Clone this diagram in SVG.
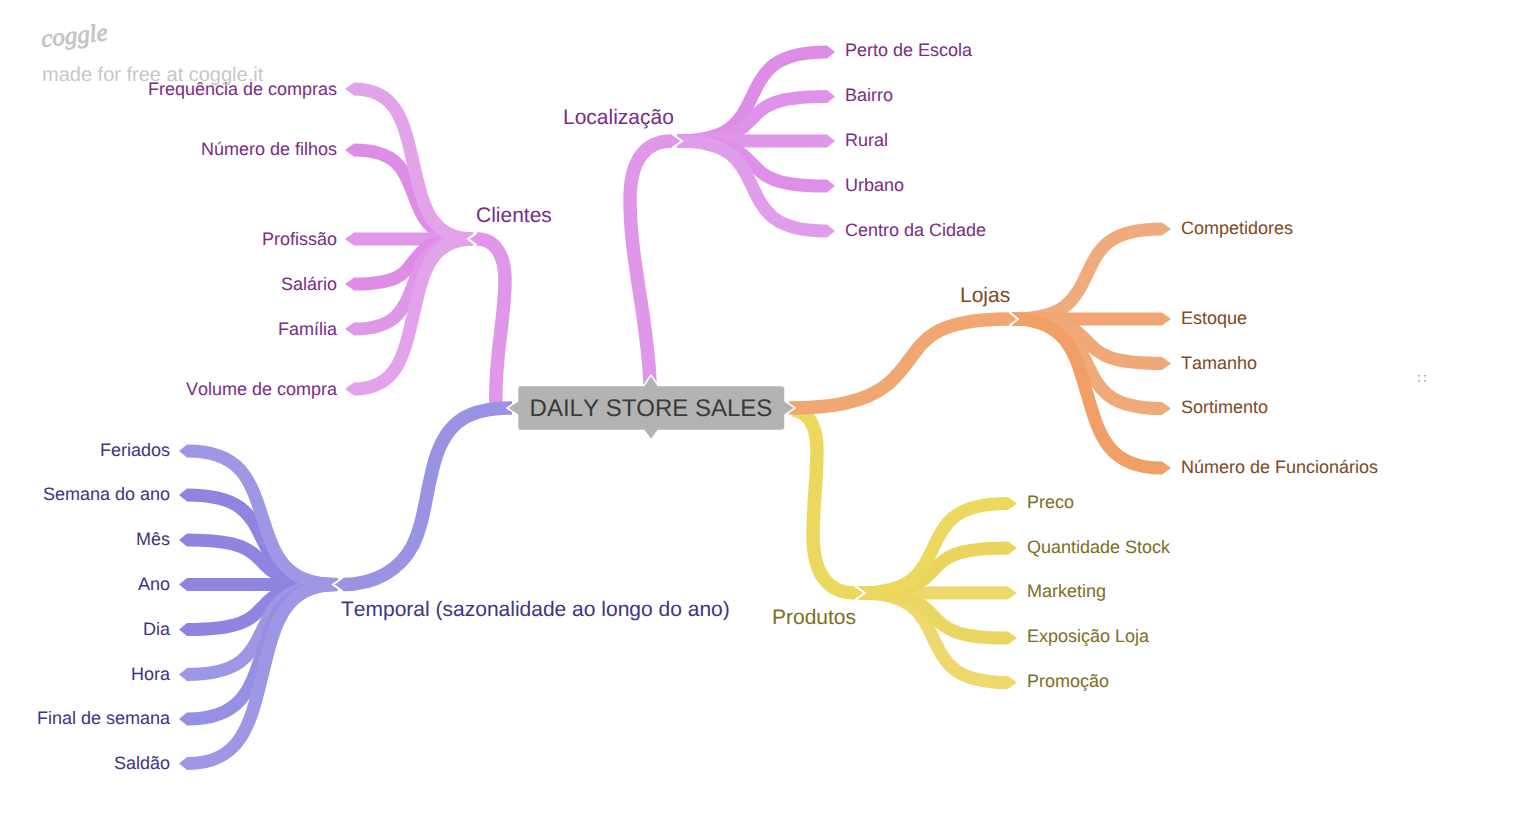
<svg xmlns="http://www.w3.org/2000/svg" width="1520" height="822" viewBox="0 0 1520 822">
<style>
text{font-family:"Liberation Sans",Arial,sans-serif;text-rendering:geometricPrecision;font-kerning:none}
.l{fill:none;stroke-width:13}
.p{fill:none;stroke-width:13.5}
.leaf{font-size:18px}
.branch{font-size:21px}
.end{text-anchor:end}
.loc{fill:#7b2d85}.tem{fill:#3f3585}.loj{fill:#804a22}.pro{fill:#7d6e22}
</style>
<rect width="1520" height="822" fill="#fff"/>
<g id="watermark">
<text x="42" y="47" font-size="25" font-style="italic" fill="#c4c4c4" stroke="#c4c4c4" stroke-width="0.8" style="font-family:'Liberation Serif',serif" transform="rotate(-6 42 47)">coggle</text>
<text x="42" y="81" font-size="20" fill="#c8c8c8">made for free at coggle.it</text>
</g>
<g id="connectors">
<!-- Localização -->
<g>
<path class="l" stroke="#dd8de8" d="M677 141C731 141 740 121.4 752 96.5S773 52 827 52"/><polygon fill="#dd8de8" points="827,45.5 835,52 827,58.5"/>
<path class="l" stroke="#df92e9" d="M677 141C731 141 740 131.2 752 118.75S773 96.5 827 96.5"/><polygon fill="#df92e9" points="827,90 835,96.5 827,103"/>
<path class="l" stroke="#e097ea" d="M677 141H827"/><polygon fill="#e097ea" points="827,134.5 835,141 827,147.5"/>
<path class="l" stroke="#de90e8" d="M677 141C731 141 740 150.9 752 163.5S773 186 827 186"/><polygon fill="#de90e8" points="827,179.5 835,186 827,192.5"/>
<path class="l" stroke="#e09deb" d="M677 141C731 141 740 160.8 752 186S773 231 827 231"/><polygon fill="#e09deb" points="827,224.5 835,231 827,237.5"/>
<polyline fill="#e097ea" stroke="#fff" stroke-width="2" points="672,134 682,141 672,148"/>
<path class="p" stroke="#e097ea" d="M650 384C648 320 630 260 630 200C630 160 645 141 672 141"/>
</g>
<!-- Clientes -->
<g>
<path class="l" stroke="#de8ce6" d="M473 239C430.2 239 423 219.4 413.5 194.5S396.8 150 354 150"/><polygon fill="#de8ce6" points="354,143.5 345,150 354,156.5"/>
<path class="l" stroke="#e097ea" d="M473 239H354"/><polygon fill="#e097ea" points="354,232.5 345,239 354,245.5"/>
<path class="l" stroke="#de8ce6" d="M473 239C430.2 239 423 248.9 413.5 261.5S396.8 284 354 284"/><polygon fill="#de8ce6" points="354,277.5 345,284 354,290.5"/>
<path class="l" stroke="#df98e8" d="M473 239C430.2 239 423 258.8 413.5 284S396.8 329 354 329"/><polygon fill="#df98e8" points="354,322.5 345,329 354,335.5"/>
<path class="l" stroke="#e2a3ea" d="M473 239C430.2 239 423 206 413.5 164S396.8 89 354 89"/><polygon fill="#e2a3ea" points="354,82.5 345,89 354,95.5"/>
<path class="l" stroke="#e2a3ea" d="M473 239C430.2 239 423 272 413.5 314S396.8 389 354 389"/><polygon fill="#e2a3ea" points="354,382.5 345,389 354,395.5"/>
<polyline fill="#e097ea" stroke="#fff" stroke-width="2" points="478,232 468,239 478,246"/>
<path class="p" stroke="#e097ea" d="M496 404C494 360 505 320 505 280C505 255 495 239 477 239"/>
</g>
<!-- Produtos -->
<g>
<path class="l" stroke="#ecd96a" d="M858 593H1008"/><polygon fill="#ecd96a" points="1008,586.5 1017,593 1008,599.5"/>
<path class="l" stroke="#edd96d" d="M858 593C912 593 921 612.7 933 637.75S954 682.5 1008 682.5"/><polygon fill="#edd96d" points="1008,676 1017,682.5 1008,689"/>
<path class="l" stroke="#ecd663" d="M858 593C912 593 921 602.9 933 615.5S954 638 1008 638"/><polygon fill="#ecd663" points="1008,631.5 1017,638 1008,644.5"/>
<path class="l" stroke="#ebd45c" d="M858 593C912 593 921 583.1 933 570.5S954 548 1008 548"/><polygon fill="#ebd45c" points="1008,541.5 1017,548 1008,554.5"/>
<path class="l" stroke="#ecd75f" d="M858 593C912 593 921 573.3 933 548.25S954 503.5 1008 503.5"/><polygon fill="#ecd75f" points="1008,497 1017,503.5 1008,510"/>
<polyline fill="#ecd85f" stroke="#fff" stroke-width="2" points="855,586 865,593 855,600"/>
<path class="p" stroke="#ecd85f" d="M793 410C808 412 817 425 817 450C817 480 813 505 813 535C813 570 825 593 855 593"/>
</g>
<!-- Lojas -->
<g>
<path class="l" stroke="#f0ab7d" d="M1012 319C1066 319 1075 299.2 1087 274S1108 229 1162 229"/><polygon fill="#f0ab7d" points="1162,222.5 1171,229 1162,235.5"/>
<path class="l" stroke="#f1a570" d="M1012 319H1162"/><polygon fill="#f1a570" points="1162,312.5 1171,319 1162,325.5"/>
<path class="l" stroke="#f1a878" d="M1012 319C1066 319 1075 328.8 1087 341.25S1108 363.5 1162 363.5"/><polygon fill="#f1a878" points="1162,357 1171,363.5 1162,370"/>
<path class="l" stroke="#f0aa7a" d="M1012 319C1066 319 1075 338.7 1087 363.75S1108 408.5 1162 408.5"/><polygon fill="#f0aa7a" points="1162,402 1171,408.5 1162,415"/>
<path class="l" stroke="#f19f66" d="M1012 319C1066 319 1075 351.8 1087 393.5S1108 468 1162 468"/><polygon fill="#f19f66" points="1162,461.5 1171,468 1162,474.5"/>
<polyline fill="#f0a771" stroke="#fff" stroke-width="2" points="1009,312 1018,319 1009,326"/>
<path class="p" stroke="#f0a771" d="M789 408C830 408 865 403 888 384C910 365 915 345 935 333C955 321 985 319 1009 319"/>
</g>
<!-- Temporal -->
<g>
<path class="l" stroke="#8f85e0" d="M338 584.5C283.6 584.5 274.6 564.8 262.5 539.75S241.4 495 187 495"/><polygon fill="#8f85e0" points="187,488.5 179,495 187,501.5"/>
<path class="l" stroke="#8f85e0" d="M338 584.5C283.6 584.5 274.6 574.7 262.5 562.25S241.4 540 187 540"/><polygon fill="#8f85e0" points="187,533.5 179,540 187,546.5"/>
<path class="l" stroke="#8f85e0" d="M338 584.5H187"/><polygon fill="#8f85e0" points="187,578 179,584.5 187,591"/>
<path class="l" stroke="#8f85e0" d="M338 584.5C283.6 584.5 274.6 594.4 262.5 607S241.4 629.5 187 629.5"/><polygon fill="#8f85e0" points="187,623 179,629.5 187,636"/>
<path class="l" stroke="#9e97e6" d="M338 584.5C283.6 584.5 274.6 604.3 262.5 629.5S241.4 674.5 187 674.5"/><polygon fill="#9e97e6" points="187,668 179,674.5 187,681"/>
<path class="l" stroke="#9590e3" d="M338 584.5C283.6 584.5 274.6 614.1 262.5 651.75S241.4 719 187 719"/><polygon fill="#9590e3" points="187,712.5 179,719 187,725.5"/>
<path class="l" stroke="#9e97e6" d="M338 584.5C283.6 584.5 274.6 555.1 262.5 517.75S241.4 451 187 451"/><polygon fill="#9e97e6" points="187,444.5 179,451 187,457.5"/>
<path class="l" stroke="#9e97e6" d="M338 584.5C283.6 584.5 274.6 623.9 262.5 674S241.4 763.5 187 763.5"/><polygon fill="#9e97e6" points="187,757 179,763.5 187,770"/>
<polyline fill="#9a92e3" stroke="#fff" stroke-width="2" points="343,577.5 333,584.5 343,591.5"/>
<path class="p" stroke="#9a92e3" d="M512 408C470 408 447 420 435 460C425 495 425 520 413 545C400 570 375 584.5 343 584.5"/>
</g>
</g>
<g id="root">
<path fill="#b3b3b3" stroke="#fff" stroke-width="1.5" d="M520.5 385.5H644L651 375L658 385.5H782A3 3 0 0 1 785 388.5V401L795 408L785 415V427.5A3 3 0 0 1 782 430.5H658L651 440L644 430.5H520.5A3 3 0 0 1 517.5 427.5V415L507 408L517.5 401V388.5A3 3 0 0 1 520.5 385.5Z"/>
<text x="651" y="416" font-size="24" fill="#3a3a3a" text-anchor="middle">DAILY STORE SALES</text>
</g>
<g id="n-localizacao"><text class="branch loc" x="563" y="124">Localização</text></g>
<g id="n-perto"><text class="leaf loc" x="845" y="56">Perto de Escola</text></g>
<g id="n-bairro"><text class="leaf loc" x="845" y="101">Bairro</text></g>
<g id="n-rural"><text class="leaf loc" x="845" y="146">Rural</text></g>
<g id="n-urbano"><text class="leaf loc" x="845" y="191">Urbano</text></g>
<g id="n-centro"><text class="leaf loc" x="845" y="236">Centro da Cidade</text></g>
<g id="n-clientes"><text class="branch loc" x="476" y="222">Clientes</text></g>
<g id="n-freq"><text class="leaf loc end" x="337" y="95">Frequência de compras</text></g>
<g id="n-filhos"><text class="leaf loc end" x="337" y="155">Número de filhos</text></g>
<g id="n-prof"><text class="leaf loc end" x="337" y="245">Profissão</text></g>
<g id="n-sal"><text class="leaf loc end" x="337" y="290">Salário</text></g>
<g id="n-fam"><text class="leaf loc end" x="337" y="335">Família</text></g>
<g id="n-vol"><text class="leaf loc end" x="337" y="395">Volume de compra</text></g>
<g id="n-lojas"><text class="branch loj" x="960" y="302">Lojas</text></g>
<g id="n-comp"><text class="leaf loj" x="1181" y="234">Competidores</text></g>
<g id="n-est"><text class="leaf loj" x="1181" y="324">Estoque</text></g>
<g id="n-tam"><text class="leaf loj" x="1181" y="369">Tamanho</text></g>
<g id="n-sort"><text class="leaf loj" x="1181" y="413">Sortimento</text></g>
<g id="n-func"><text class="leaf loj" x="1181" y="473">Número de Funcionários</text></g>
<g id="n-produtos"><text class="branch pro" x="772" y="624">Produtos</text></g>
<g id="n-preco"><text class="leaf pro" x="1027" y="508">Preco</text></g>
<g id="n-quant"><text class="leaf pro" x="1027" y="553">Quantidade Stock</text></g>
<g id="n-mark"><text class="leaf pro" x="1027" y="597">Marketing</text></g>
<g id="n-expo"><text class="leaf pro" x="1027" y="642">Exposição Loja</text></g>
<g id="n-promo"><text class="leaf pro" x="1027" y="687">Promoção</text></g>
<g id="n-temporal"><text class="branch tem" x="341" y="616">Temporal (sazonalidade ao longo do ano)</text></g>
<g id="n-fer"><text class="leaf tem end" x="170" y="456">Feriados</text></g>
<g id="n-sem"><text class="leaf tem end" x="170" y="500">Semana do ano</text></g>
<g id="n-mes"><text class="leaf tem end" x="170" y="545">Mês</text></g>
<g id="n-ano"><text class="leaf tem end" x="170" y="590">Ano</text></g>
<g id="n-dia"><text class="leaf tem end" x="170" y="635">Dia</text></g>
<g id="n-hora"><text class="leaf tem end" x="170" y="680">Hora</text></g>
<g id="n-final"><text class="leaf tem end" x="170" y="724">Final de semana</text></g>
<g id="n-saldao"><text class="leaf tem end" x="170" y="769">Saldão</text></g>
<g id="specks" fill="#c79ad0">
<rect x="1418" y="375" width="2" height="1.5"/><rect x="1424" y="375" width="2" height="1.5"/><rect x="1418" y="380" width="2" height="1.5"/><rect x="1424" y="380" width="2" height="1.5"/>
</g>
</svg>
